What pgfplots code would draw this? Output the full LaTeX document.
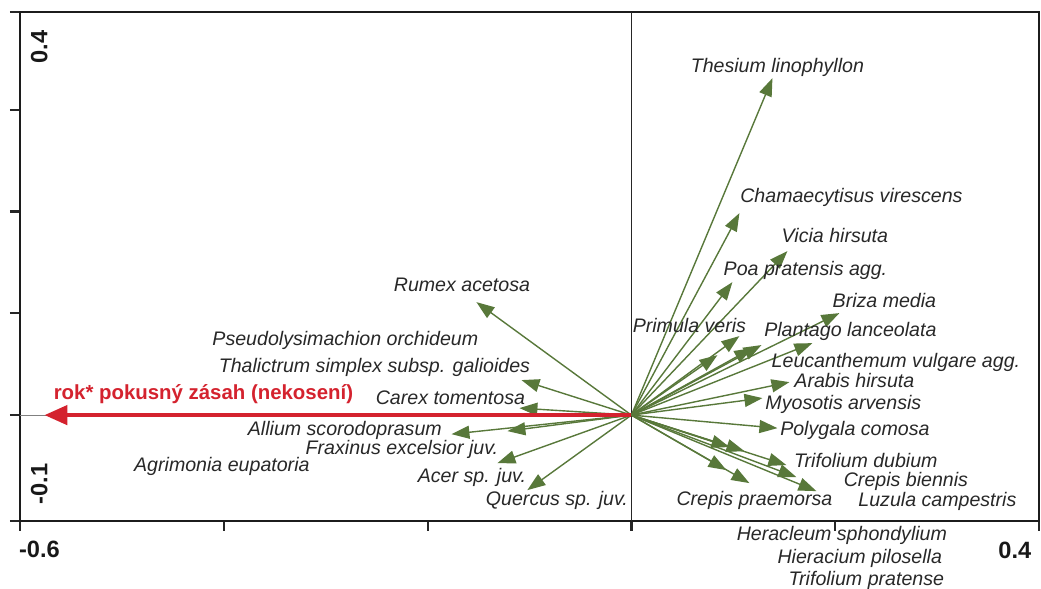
\documentclass[border=0pt]{standalone}
\usepackage{pgfplots}
\pgfplotsset{compat=1.18}
\usepackage{pgfplotstable}
\usepackage{fontspec}
\setmainfont{Liberation Sans}
\usetikzlibrary{arrows.meta}
\definecolor{arrgreen}{RGB}{88,120,58}
\definecolor{arrred}{RGB}{212,34,46}
\definecolor{txt}{RGB}{40,40,40}
\tikzset{
  lbl/.style={font=\fontsize{9.8}{11}\selectfont\itshape, text=txt, inner sep=0pt},
  endlbl/.style={font=\fontsize{11.8}{13}\selectfont\bfseries, text=txt!60!black, inner sep=0pt},
}

\pgfplotstableread{
x0 y0 tx ty
0 0 0.1384 0.3310
0 0 0.1060 0.1984
0 0 0.1531 0.1611
0 0 0.0991 0.1306
0 0 0.2041 0.1002
0 0 0.1776 0.0707
0 0 0.1060 0.0776
0 0 0.1276 0.0688
0 0 0.1187 0.0658
0 0 0.0844 0.0589
0 0 0.1551 0.0324
0 0 0.1286 0.0167
0 0 0.1433 -0.0128
0 0 0.0962 -0.0314
0 0 0.1109 -0.0354
0 0 0.1521 -0.0491
0 0 0.1619 -0.0609
0 0 0.1816 -0.0747
0 0 0.0932 -0.0540
0 0 0.1158 -0.0668
0 0 -0.1521 0.1110
0 0 -0.1079 0.0344
0 0 -0.1099 0.0069
0 0 -0.1766 -0.0187
0 0 -0.1217 -0.0157
0 0 -0.1315 -0.0472
0 0 -0.1021 -0.0737
}\species

\begin{document}
\begin{tikzpicture}
\begin{axis}[
  name=ax,
  scale only axis,
  width=509.5pt, height=254.5pt,
  xmin=-0.6, xmax=0.4,
  ymin=-0.104, ymax=0.396,
  xtick={-0.6,-0.4,-0.2,0,0.2,0.4},
  ytick={-0.104,0,0.1,0.2,0.3,0.396},
  xticklabels={}, yticklabels={},
  xtick pos=bottom, ytick pos=left,
  tick align=outside,
  major tick length=5pt,
  tick style={line width=1.1pt, color=black!85},
  axis line style={line width=1.4pt, color=txt!70!black},
  clip=false,
]
% reference lines
\addplot[gray, line width=0.5pt] coordinates {(-0.6,0) (0,0)};
\addplot[black!85, line width=0.5pt] coordinates {(0,-0.104) (0,0.396)};

% species arrows
\addplot[arrgreen, line width=0.7pt,
  quiver={u=\thisrow{tx}, v=\thisrow{ty}},
  -{Triangle[length=9pt,width=6.5pt]}]
  table[x=x0, y=y0] {\species};

% treatment arrow
\addplot[arrred, line width=2.2pt, -{Triangle[length=11.5pt,width=9.5pt]}]
  coordinates {(0,0) (-0.5761,0)};

% labels right
\node[lbl] at (axis cs:0.1433,0.3418) {Thesium linophyllon};
\node[lbl] at (axis cs:0.2159,0.2141) {Chamaecytisus virescens};
\node[lbl] at (axis cs:0.1997,0.1768) {Vicia hirsuta};
\node[lbl] at (axis cs:0.1708,0.1424) {Poa pratensis agg.};
\node[lbl] at (axis cs:0.2483,0.1130) {Briza media};
\node[lbl] at (axis cs:0.0569,0.0884) {Primula veris};
\node[lbl] at (axis cs:0.2149,0.0825) {Plantago lanceolata};
\node[lbl] at (axis cs:0.2596,0.0521) {Leucanthemum vulgare agg.};
\node[lbl] at (axis cs:0.2188,0.0344) {Arabis hirsuta};
\node[lbl] at (axis cs:0.2080,0.0108) {Myosotis arvensis};
\node[lbl] at (axis cs:0.2193,-0.0147) {Polygala comosa};
\node[lbl] at (axis cs:0.2301,-0.0442) {Trifolium dubium};
\node[lbl] at (axis cs:0.2694,-0.0648) {Crepis biennis};
\node[lbl] at (axis cs:0.3003,-0.0845) {Luzula campestris};
\node[lbl] at (axis cs:0.1207,-0.0835) {Crepis praemorsa};
\node[lbl, anchor=east] at (axis cs:0.3101,-0.1179) {Heracleum sphondylium};
\node[lbl, anchor=east] at (axis cs:0.3052,-0.1405) {Hieracium pilosella};
\node[lbl, anchor=east] at (axis cs:0.3072,-0.1621) {Trifolium pratense};
% labels left
\node[lbl] at (axis cs:-0.1663,0.1277) {Rumex acetosa};
\node[lbl] at (axis cs:-0.2807,0.0737) {Pseudolysimachion orchideum};
\node[lbl] at (axis cs:-0.2522,0.0472) {Thalictrum simplex subsp. galioides};
\node[lbl] at (axis cs:-0.1776,0.0167) {Carex tomentosa};
\node[lbl] at (axis cs:-0.2812,-0.0147) {Allium scorodoprasum};
\node[lbl] at (axis cs:-0.2252,-0.0334) {Fraxinus excelsior juv.};
\node[lbl] at (axis cs:-0.4019,-0.0501) {Agrimonia eupatoria};
\node[lbl] at (axis cs:-0.1565,-0.0609) {Acer sp. juv.};
\node[lbl] at (axis cs:-0.0731,-0.0835) {Quercus sp. juv.};
% treatment label
\node[font=\fontsize{10.2}{12}\selectfont\bfseries, text=arrred, inner sep=0pt] at (axis cs:-0.4200,0.0206) {rok* pokusný zásah (nekosení)};

% axis end labels
\node[endlbl] at (axis cs:-0.5810,-0.1316) {-0.6};
\node[endlbl] at (axis cs:0.3763,-0.1326) {0.4};
\node[endlbl, rotate=90] at (axis cs:-0.5810,0.3615) {0.4};
\node[endlbl, rotate=90] at (axis cs:-0.5810,-0.0678) {-0.1};
\end{axis}
\pgfresetboundingbox
\path ([shift={(-10pt,-34pt)}]ax.south west) rectangle ([shift={(1pt,6pt)}]ax.north east);
\end{tikzpicture}
\end{document}
